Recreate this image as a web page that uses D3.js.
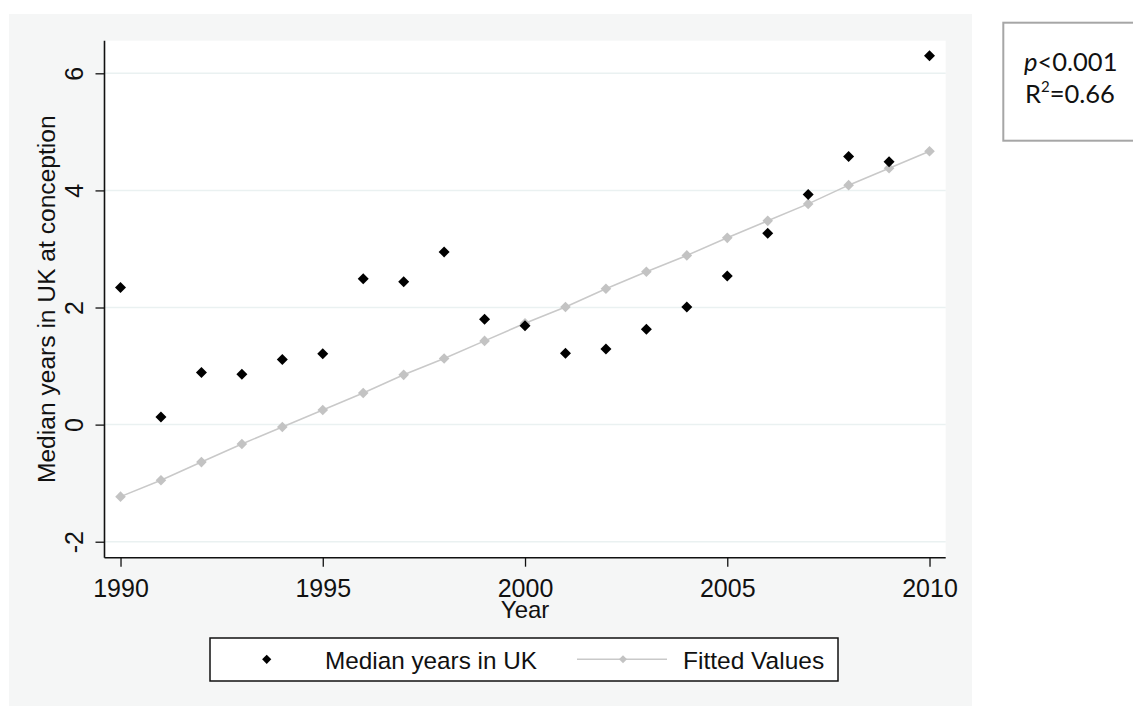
<!DOCTYPE html>
<html>
<head>
<meta charset="utf-8">
<script src="https://cdn.jsdelivr.net/npm/d3@7"></script>
<style>
  html, body { margin: 0; padding: 0; background: #ffffff; }
  svg { display: block; }
  text { font-family: "Liberation Sans", Arial, sans-serif; fill: #111; }
</style>
</head>
<body>
<svg id="chart" width="1133" height="706"></svg>
<script>
// ---- data ----
const years = [1990,1991,1992,1993,1994,1995,1996,1997,1998,1999,2000,2001,2002,2003,2004,2005,2006,2007,2008,2009,2010];
const medianYears = [2.34,0.13,0.89,0.86,1.11,1.21,2.49,2.44,2.95,1.80,1.69,1.22,1.29,1.63,2.01,2.54,3.27,3.93,4.58,4.49,6.30];
const fittedValues = [-1.23,-0.95,-0.64,-0.33,-0.04,0.25,0.54,0.85,1.13,1.43,1.73,2.01,2.32,2.61,2.89,3.19,3.48,3.77,4.09,4.38,4.67];
const xTicks = [1990,1995,2000,2005,2010];
const yTicks = [-2,0,2,4,6];
const seriesNames = ["Median years in UK", "Fitted Values"];
const xTitle = "Year";
const yTitle = "Median years in UK at conception";
const statsLines = ["p<0.001", "R2=0.66"];

// ---- layout ----
const svg = d3.select("#chart");
const plot = {left: 104.5, right: 945.7, top: 40.7, bottom: 557.7};

const x = d3.scaleLinear().domain([1989.604, 2010.40]).range([plot.left, plot.right]);
const y = d3.scaleLinear().domain([-2.273, 6.557]).range([plot.bottom, plot.top]);

// outer graph region
svg.append("rect").attr("x", 9).attr("y", 14).attr("width", 963).attr("height", 692)
  .attr("fill", "#f5f6f6");

// plot region
svg.append("rect").attr("x", plot.left).attr("y", plot.top)
  .attr("width", plot.right - plot.left).attr("height", plot.bottom - plot.top)
  .attr("fill", "#ffffff");

// gridlines
svg.append("g").selectAll("line").data(yTicks).join("line")
  .attr("x1", plot.left).attr("x2", plot.right)
  .attr("y1", d => y(d)).attr("y2", d => y(d))
  .attr("stroke", "#eaf1f1").attr("stroke-width", 1.5);

// y axis
const yAxis = svg.append("g").attr("transform", `translate(${plot.left},0)`)
  .call(d3.axisLeft(y).tickValues(yTicks).tickSize(9).tickFormat(d => String(d)));
yAxis.select(".domain").attr("stroke", "#111").attr("stroke-width", 1.6)
  .attr("d", `M0,${plot.top}V${plot.bottom}`);
yAxis.selectAll(".tick line").attr("stroke", "#111").attr("stroke-width", 1.3);
yAxis.selectAll(".tick text")
  .attr("x", null).attr("dy", null)
  .attr("transform", `translate(${83 - plot.left},0) rotate(-90)`)
  .attr("text-anchor", "middle")
  .style("font-size", "25px").style("font-family", "'Liberation Sans', Arial, sans-serif")
  .attr("fill", "#111");

// x axis
const xAxis = svg.append("g").attr("transform", `translate(0,${plot.bottom})`)
  .call(d3.axisBottom(x).tickValues(xTicks).tickSize(9).tickFormat(d => String(d)));
xAxis.select(".domain").attr("stroke", "#111").attr("stroke-width", 1.6)
  .attr("d", `M${plot.left},0H${plot.right}`);
xAxis.selectAll(".tick line").attr("stroke", "#111").attr("stroke-width", 1.3);
xAxis.selectAll(".tick text")
  .attr("y", 39).attr("dy", null)
  .style("font-size", "25px").style("font-family", "'Liberation Sans', Arial, sans-serif")
  .attr("fill", "#111");

// axis titles
svg.append("text").attr("x", (plot.left + plot.right) / 2).attr("y", 618)
  .attr("text-anchor", "middle").style("font-size", "24px").text(xTitle);
svg.append("text")
  .attr("transform", `translate(55,${(plot.top + plot.bottom) / 2}) rotate(-90)`)
  .attr("text-anchor", "middle").style("font-size", "24.6px").text(yTitle);

// diamond path generator
const diamond = r => `M0,${-r}L${r},0L0,${r}L${-r},0Z`;

// fitted line
const fitted = years.map((yr, i) => ({yr, v: fittedValues[i]}));
svg.append("path").datum(fitted)
  .attr("d", d3.line().x(d => x(d.yr)).y(d => y(d.v)))
  .attr("fill", "none").attr("stroke", "#c9c9c9").attr("stroke-width", 1.6);
svg.append("g").selectAll("path").data(fitted).join("path")
  .attr("transform", d => `translate(${x(d.yr)},${y(d.v)})`)
  .attr("d", diamond(5.3)).attr("fill", "#c3c3c3");

// observed points
const obs = years.map((yr, i) => ({yr, v: medianYears[i]}));
svg.append("g").selectAll("path").data(obs).join("path")
  .attr("transform", d => `translate(${x(d.yr)},${y(d.v)})`)
  .attr("d", diamond(5.5)).attr("fill", "#000");

// legend
const lg = svg.append("g");
lg.append("rect").attr("x", 210).attr("y", 638).attr("width", 628).attr("height", 43)
  .attr("fill", "#fff").attr("stroke", "#111").attr("stroke-width", 1.5);
lg.append("path").attr("transform", "translate(266.7,659.3)").attr("d", diamond(4.6)).attr("fill", "#000");
lg.append("text").attr("x", 325).attr("y", 669).style("font-size", "24.3px").text(seriesNames[0]);
lg.append("line").attr("x1", 577).attr("x2", 667).attr("y1", 659.3).attr("y2", 659.3)
  .attr("stroke", "#c9c9c9").attr("stroke-width", 1.6);
lg.append("path").attr("transform", "translate(623,659.3)").attr("d", diamond(4)).attr("fill", "#c3c3c3");
lg.append("text").attr("x", 683).attr("y", 669).style("font-size", "24.5px").text(seriesNames[1]);

// stats box
const sb = svg.append("g");
sb.append("rect").attr("x", 1003.3).attr("y", 22.7).attr("width", 140).attr("height", 118)
  .attr("fill", "#fff").attr("stroke", "#a6a6a6").attr("stroke-width", 2);
const t1 = sb.append("text").attr("x", 1024).attr("y", 71)
  .style("font-family", "Lato, 'Open Sans', sans-serif").style("font-size", "25.5px").attr("fill", "#000");
t1.append("tspan").style("font-style", "italic").text(statsLines[0].charAt(0));
t1.append("tspan").text(statsLines[0].slice(1));
const t2 = sb.append("text").attr("x", 1025).attr("y", 103)
  .style("font-family", "Lato, 'Open Sans', sans-serif").style("font-size", "25.5px").attr("fill", "#000");
t2.append("tspan").text(statsLines[1].charAt(0));
t2.append("tspan").attr("dy", -11).style("font-size", "15px").text(statsLines[1].charAt(1));
t2.append("tspan").attr("dy", 11).text(statsLines[1].slice(2));
</script>
</body>
</html>
